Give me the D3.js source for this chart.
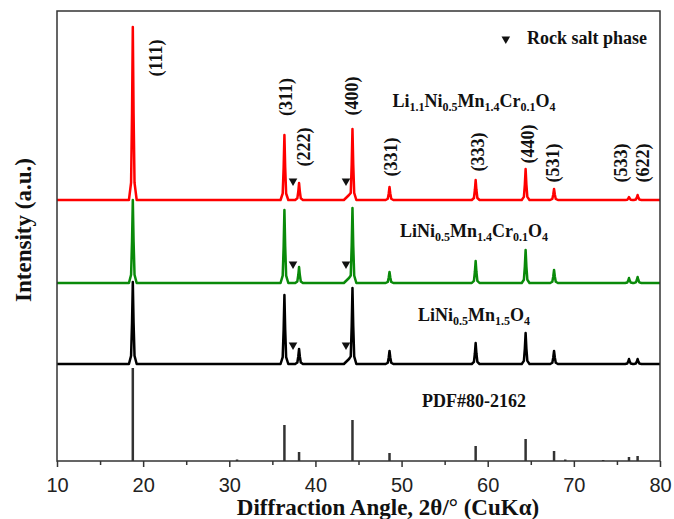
<!DOCTYPE html>
<html>
<head>
<meta charset="utf-8">
<script src="https://cdn.jsdelivr.net/npm/d3@7"></script>
<style>
  body { margin: 0; background: #fff; }
  text { font-family: "Liberation Serif", "Times New Roman", serif; font-weight: bold; fill: #111; }
  .tick text { font-family: "Liberation Sans", Arial, sans-serif; font-weight: normal; font-size: 20px; fill: #222; }
</style>
</head>
<body>
<div id="chart"></div>
<script>
// reflection positions (2θ) and labels
const peakAngles = [18.8, 36.4, 38.1, 44.3, 48.6, 58.6, 64.4, 67.7, 76.4, 77.4]
const hkl = ['(111)', '(311)', '(222)', '(400)', '(331)', '(333)', '(440)', '(531)', '(533)', '(622)']

// peak heights above each baseline (a.u.)
const redHeights = [173, 65, 17, 71, 13, 20, 31, 11, 3, 5]
const greenHeights = [83, 73, 16, 75, 11, 22, 33, 13, 5, 6]
const blackHeights = [82, 69, 15, 76, 13, 21, 31, 13, 5, 5]

// rock salt shoulder on the low-angle side of (400)
const shoulderAngle = 43.9
const redShoulder = 5, greenShoulder = 5, blackShoulder = 5

// stacking offsets of the patterns
const redOffset = 261, greenOffset = 178, blackOffset = 97

// reference card PDF#80-2162
const pdfAngles = [18.8, 30.9, 36.4, 38.1, 44.3, 48.6, 58.6, 64.4, 67.7, 69.0, 73.4, 76.4, 77.4]
const pdfHeights = [93, 1.5, 36, 9, 41, 8, 15, 22, 10, 1.5, 1, 4, 5]

// rock salt phase markers
const rockSaltAngles = [37.4, 43.55]

// hkl label placement (2θ, a.u.)
const labelAngles = [21.4, 36.5, 38.6, 44.25, 48.7, 58.8, 64.6, 67.6, 75.4, 78.0]
const labelLevels = [403, 364, 314, 365, 304, 309, 317, 298, 298, 298]

const xTicks = [10, 20, 30, 40, 50, 60, 70, 80]
const xMinorTicks = [15, 25, 35, 45, 55, 65, 75]

const width = 674, height = 519
const margin = { left: 57, right: 14, top: 11, bottom: 58 }

const svg = d3.select('#chart')
              .append('svg')
              .attr('width', width)
              .attr('height', height)

const xScale = d3.scaleLinear()
                 .domain([10, 80])
                 .range([margin.left, width - margin.right]),
      yScale = d3.scaleLinear()
                 .domain([0, 450])
                 .range([height - margin.bottom, margin.top])

// narrow peak profile template
const shapeDx = [-0.45, -0.2, -0.09, 0, 0.09, 0.2, 0.45],
      shapeFrac = [0, 0.1, 0.5, 1, 0.5, 0.1, 0]

function pattern(heights, offset, shoulder) {
  const pts = [[10, offset]]
  peakAngles.forEach(function(a, i) {
    shapeDx.forEach(function(dx, j) {
      if (i === 3 && j === 0) {
        pts.push([shoulderAngle - 0.6, offset])
        pts.push([shoulderAngle, offset + shoulder])
        return
      }
      pts.push([a + dx, offset + heights[i] * shapeFrac[j]])
    })
  })
  pts.push([80, offset])
  return pts
}

const line = d3.line()
               .x(function(d) { return xScale(d[0]) })
               .y(function(d) { return yScale(d[1]) })

// PDF sticks
svg.append('g')
   .selectAll('line')
   .data(pdfAngles)
   .enter()
   .append('line')
   .attr('x1', function(d) { return xScale(d) })
   .attr('x2', function(d) { return xScale(d) })
   .attr('y1', yScale(0))
   .attr('y2', function(d, i) { return yScale(pdfHeights[i]) })
   .attr('stroke', '#333')
   .attr('stroke-width', 2.5)

const series = [
  { heights: blackHeights, offset: blackOffset, shoulder: blackShoulder, color: '#000' },
  { heights: greenHeights, offset: greenOffset, shoulder: greenShoulder, color: '#0a8a0a' },
  { heights: redHeights, offset: redOffset, shoulder: redShoulder, color: '#f00' }
]

series.forEach(function(s) {
  svg.append('path')
     .attr('d', line(pattern(s.heights, s.offset, s.shoulder)))
     .attr('fill', 'none')
     .attr('stroke', s.color)
     .attr('stroke-width', 2.5)
     .attr('stroke-linejoin', 'round')
})

// rock salt triangles
const tri = d3.symbol().type(d3.symbolTriangle).size(32)
series.forEach(function(s) {
  rockSaltAngles.forEach(function(a) {
    svg.append('path')
       .attr('d', tri())
       .attr('transform', 'translate(' + xScale(a) + ',' + yScale(s.offset + 19) + ') rotate(180)')
       .attr('fill', '#111')
  })
})

// hkl labels
svg.append('g')
   .selectAll('text')
   .data(hkl)
   .enter()
   .append('text')
   .attr('transform', function(d, i) {
     return 'translate(' + xScale(labelAngles[i]) + ',' + yScale(labelLevels[i]) + ') rotate(-90)'
   })
   .attr('text-anchor', 'middle')
   .attr('dy', '0.35em')
   .style('font-size', '18px')
   .text(function(d) { return d })

// formula labels
const formulas = [
  { parts: [['Li', 0], ['1.1', 1], ['Ni', 0], ['0.5', 1], ['Mn', 0], ['1.4', 1], ['Cr', 0], ['0.1', 1], ['O', 0], ['4', 1]], level: 354 },
  { parts: [['LiNi', 0], ['0.5', 1], ['Mn', 0], ['1.4', 1], ['Cr', 0], ['0.1', 1], ['O', 0], ['4', 1]], level: 224 },
  { parts: [['LiNi', 0], ['0.5', 1], ['Mn', 0], ['1.5', 1], ['O', 0], ['4', 1]], level: 140 },
  { parts: [['PDF#80-2162', 0]], level: 54 }
]

formulas.forEach(function(f) {
  const t = svg.append('text')
               .attr('x', xScale(58.4))
               .attr('y', yScale(f.level))
               .attr('text-anchor', 'middle')
               .style('font-size', '18px')
  let shifted = 0
  f.parts.forEach(function(p) {
    const dy = p[1] ? 4 - shifted : -shifted
    shifted = p[1] ? 4 : 0
    t.append('tspan')
     .attr('dy', dy)
     .style('font-size', p[1] ? '12px' : '18px')
     .text(p[0])
  })
})

// legend
svg.append('path')
   .attr('d', tri())
   .attr('transform', 'translate(' + xScale(62.1) + ',' + yScale(422) + ') rotate(180)')
   .attr('fill', '#111')
svg.append('text')
   .attr('x', 527)
   .attr('y', 44)
   .style('font-size', '18px')
   .text('Rock salt phase')

// x axis
const xAxis = d3.axisBottom(xScale)
                .tickValues(xTicks)
                .tickSize(6)
                .tickPadding(11)
                .tickFormat(d3.format('d'))
svg.append('g')
   .attr('id', 'x-axis')
   .attr('transform', 'translate(0,' + yScale(0) + ')')
   .call(xAxis)
   .call(function(g) { g.select('.domain').remove() })
   .call(function(g) { g.selectAll('.tick line').attr('stroke', '#333').attr('stroke-width', 1.5) })

svg.append('g')
   .attr('transform', 'translate(0,' + yScale(0) + ')')
   .call(d3.axisBottom(xScale).tickValues(xMinorTicks).tickSize(4).tickFormat(''))
   .call(function(g) { g.select('.domain').remove() })
   .call(function(g) { g.selectAll('.tick line').attr('stroke', '#333').attr('stroke-width', 1.5) })

// frame
svg.append('rect')
   .attr('x', margin.left)
   .attr('y', margin.top)
   .attr('width', width - margin.left - margin.right)
   .attr('height', height - margin.top - margin.bottom)
   .attr('fill', 'none')
   .attr('stroke', '#333')
   .attr('stroke-width', 1.5)

// axis titles
svg.append('text')
   .attr('x', 388)
   .attr('y', 515)
   .attr('text-anchor', 'middle')
   .style('font-size', '23px')
   .text('Diffraction Angle, 2θ/° (CuKα)')

svg.append('text')
   .attr('transform', 'translate(23,' + 230 + ') rotate(-90)')
   .attr('text-anchor', 'middle')
   .attr('dy', '0.35em')
   .style('font-size', '23px')
   .text('Intensity (a.u.)')
</script>
</body>
</html>
